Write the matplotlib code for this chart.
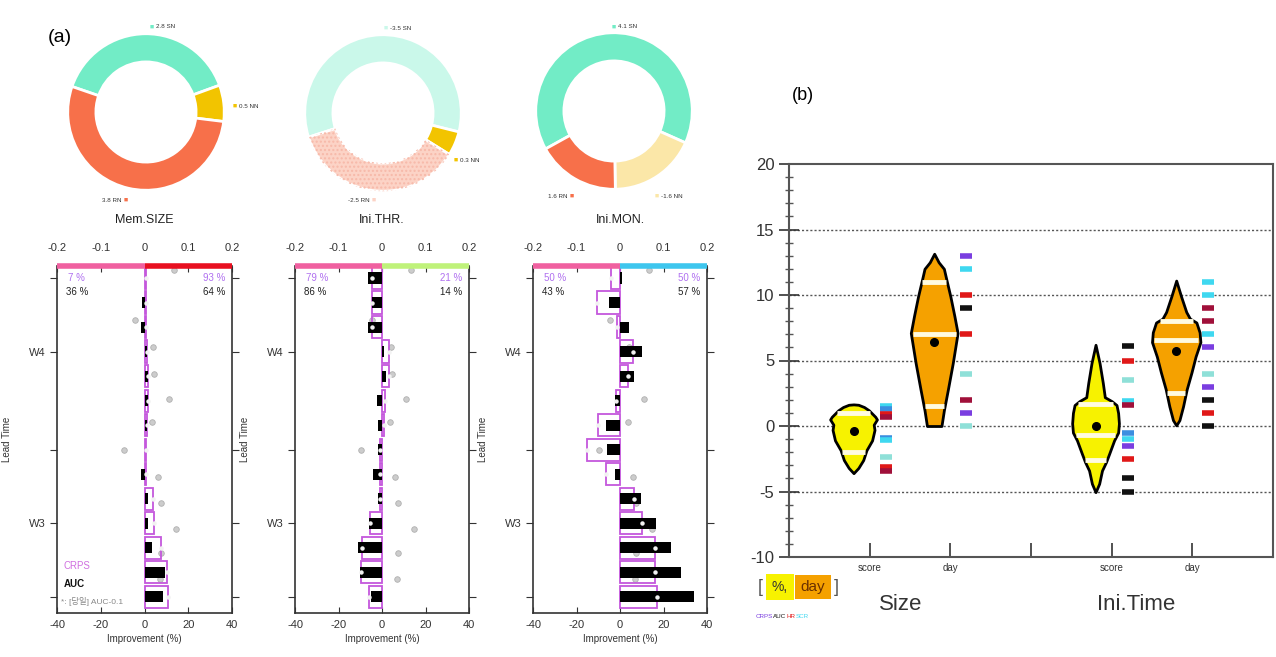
import numpy as np
import matplotlib.pyplot as plt
from matplotlib.patches import Wedge
from matplotlib.ticker import MultipleLocator
from matplotlib.transforms import blended_transform_factory

plt.rcParams['font.family'] = ['Liberation Sans', 'DejaVu Sans', 'Noto Sans CJK KR']
plt.rcParams['axes.unicode_minus'] = False

# ---------------- data ----------------
# donuts (a): shares in degrees read off the rings, order = SN, NN, RN (clockwise)
ring_share = [[141, 27, 192], [212, 18, 130], [233, 65, 62]]
ring_start = [161, 198, 209]
ring_text = [['2.8 SN', '0.5 NN', '3.8 RN'],
             ['-3.5 SN', '0.3 NN', '-2.5 RN'],
             ['4.1 SN', '-1.6 NN', '1.6 RN']]
ring_colors = [['#72ecc6', '#f2c400', '#f7704a'],
               ['#caf8ea', '#f2c400', '#fcd3c6'],
               ['#72ecc6', '#fbe7a8', '#f7704a']]

# bar panels (a)
panel_titles = ['Mem.SIZE', 'Ini.THR.', 'Ini.MON.']
lead_days = np.arange(28, 14, -1)          # 14 rows, top = day 28
tick_days = [28, 25, 21, 18, 15]
tick_names = ['', 'W4', '', 'W3', '']
crps_vals = [
    [0.5, 0.5, 0.5, 1, 1.5, 1.5, 1, 0.5, 0.5, 3.9, 4.3, 7.5, 10.3, 10.7],
    [-4.5, -4.5, -4.5, 3, 3, 1.5, 1, -1, -1, -1, -5.5, -9, -9.5, -6],
    [-4, -10.5, -1.5, 6, 3.5, -2, -10, -15, -6.5, 6.5, 10, 16, 16, 17],
]
auc_vals = [
    [0, -1, -1.5, 1, 1.5, 1.5, 1, 0, -1.5, 1.5, 1.5, 3.4, 9.4, 8.4],
    [-6.5, -4.5, -6.5, 1, 2, -2.5, -2, -2, -4, -2, -6, -11, -10, -5],
    [1, -5, 4, 10, 6.5, -2.5, -6.5, -6, -2.5, 9.5, 16.5, 23.5, 28, 34],
]
dot_lead = [28.33, 26.29, 25.18, 24.08, 23.06, 22.12, 20.98, 19.88, 18.82, 17.76, 16.78, 15.71]
dot_val = [13.5, -4.5, 4, 4.5, 11, 3.5, -9.5, 6, 7.5, 14.5, 7.5, 7]
pct_crps = [('7 %', '93 %'), ('79 %', '21 %'), ('50 %', '50 %')]
pct_auc = [('36 %', '64 %'), ('86 %', '14 %'), ('43 %', '57 %')]
right_bar = ['#e81020', '#bff27a', '#3ec6ee']

# violins (b)
size_score_y = [-3.6, -3.2, -2.6, -1.85, -1.1, -0.3, 0.1, 0.5, 0.7, 1.2, 1.45, 1.62, 1.65]
size_score_hw = [0.0, 0.06, 0.12, 0.16, 0.23, 0.26, 0.25, 0.29, 0.27, 0.19, 0.13, 0.06, 0.0]
size_day_y = [0.0, 1.2, 2.8, 4.8, 7.1, 8.4, 9.9, 11.2, 12.0, 12.5, 13.15]
size_day_hw = [0.09, 0.12, 0.17, 0.23, 0.29, 0.25, 0.20, 0.15, 0.12, 0.055, 0.0]
ini_score_y = [-5.05, -4.4, -3.4, -2.75, -2.1, -1.1, -0.5, 0.2, 1.0, 1.6, 1.9, 2.2, 3.3, 4.8, 6.2]
ini_score_hw = [0.0, 0.045, 0.08, 0.13, 0.17, 0.23, 0.28, 0.29, 0.28, 0.26, 0.2, 0.115, 0.09, 0.05, 0.0]
ini_day_y = [0.05, 0.45, 1.5, 2.8, 4.1, 5.3, 6.4, 7.15, 7.9, 8.2, 8.7, 9.9, 11.1]
ini_day_hw = [0.0, 0.04, 0.085, 0.13, 0.19, 0.24, 0.30, 0.29, 0.25, 0.17, 0.125, 0.06, 0.0]

size_score_q = [1.0, -2.0]
size_day_q = [11.0, 7.0, 1.5]
ini_score_q = [1.7, -0.7, -2.6]
ini_day_q = [8.0, 6.6, 2.5]
violin_mean = [-0.35, 6.4, 0.0, 5.7]

size_score_dash = [1.55, 1.3, 0.9, 0.65, -0.9, -1.1, -2.4, -3.1, -3.45]
size_score_col = ['C', 'B', 'R', 'D', 'B', 'C', 'T', 'R', 'D']
size_day_dash = [13, 12, 10, 9, 7, 4, 2, 1, 0]
size_day_col = ['P', 'C', 'R', 'K', 'R', 'T', 'D', 'P', 'T']
ini_score_dash = [6.1, 5.0, 3.5, 1.9, 1.6, -0.5, -1.0, -1.5, -2.5, -4.0, -5.0]
ini_score_col = ['K', 'R', 'T', 'C', 'D', 'B', 'C', 'P', 'R', 'K', 'K']
ini_day_dash = [11, 10, 9, 8, 7, 6, 4, 3, 2, 1, 0]
ini_day_col = ['C', 'C', 'D', 'D', 'C', 'P', 'T', 'P', 'K', 'R', 'K']

x_names = ['score', 'day', '', 'score', 'day']

palette = {'P': '#7a3ee0', 'K': '#111111', 'R': '#e01818', 'C': '#3fd8f0',
           'D': '#a0103a', 'B': '#3b8ee0', 'T': '#8fe0d8'}

# ---------------- figure ----------------
W, H = 1276, 657
fig = plt.figure(figsize=(W / 100, H / 100), dpi=100)


def px_axes(x0, y0, x1, y1):
    return fig.add_axes([x0 / W, 1 - y1 / H, (x1 - x0) / W, (y1 - y0) / H])


def ftext(px, py, s, **kw):
    return fig.text(px / W, 1 - py / H, s, **kw)


ftext(60, 38, '(a)', fontsize=14, ha='center', va='center')
ftext(803, 95, '(b)', fontsize=13, ha='center', va='center')

# donuts
centres = [(146, 112), (383, 113), (614, 111)]
label_px = [[(152, 27, 'r'), (235, 106, 'r'), (126, 200, 'l')],
            [(386, 28, 'r'), (456, 160, 'r'), (374, 200, 'l')],
            [(614, 27, 'r'), (657, 196, 'r'), (572, 196, 'l')]]
for k, (cx, cy) in enumerate(centres):
    ax = px_axes(cx - 90, cy - 90, cx + 90, cy + 90)
    wedges, _ = ax.pie(ring_share[k], colors=ring_colors[k], startangle=ring_start[k],
                       counterclock=False, radius=1,
                       wedgeprops=dict(width=0.36, edgecolor='white', linewidth=2))
    if k == 1:
        w = wedges[2]
        ax.add_patch(Wedge(w.center, w.r, w.theta1, w.theta2, width=w.width,
                           facecolor='none', edgecolor='#f7b9a9', hatch='....', lw=0))
    ax.set_xlim(-1.15, 1.15)
    ax.set_ylim(-1.15, 1.15)
    ax.axis('off')
    for j, (sx, sy, side) in enumerate(label_px[k]):
        ftext(sx, sy, '■', fontsize=5, color=ring_colors[k][j], ha='center', va='center')
        if side == 'r':
            ftext(sx + 4, sy, ring_text[k][j], fontsize=4.5, ha='left', va='center', color='#333')
        else:
            ftext(sx - 4, sy, ring_text[k][j], fontsize=4.5, ha='right', va='center', color='#333')

# bar panels
panel_x = [(57, 232), (295, 469), (533, 707)]
for k in range(3):
    x0, x1 = panel_x[k]
    ax = px_axes(x0, 266, x1, 613)
    ax.plot(dot_val, dot_lead, 'o', ms=4, mfc='#cccccc', mec='#b0b0b0', mew=0.6,
            ls='none', zorder=1.5)
    ax.barh(lead_days, crps_vals[k], height=0.9, fill=False, edgecolor='#c457dc',
            lw=1.3, zorder=2)
    ax.barh(lead_days, auc_vals[k], height=0.45, color='black', zorder=3)
    ax.plot(crps_vals[k], lead_days, 'o', ms=2.2, color='#f2f2f2', ls='none', zorder=4)
    ax.set_xlim(-40, 40)
    ax.set_ylim(14.33, 28.49)
    ax.set_yticks(tick_days)
    ax.set_yticklabels(tick_names)
    ax.tick_params(axis='y', direction='out', length=5, right=True, labelsize=8,
                   colors='#333', pad=3)
    ax.set_xticks([-40, -20, 0, 20, 40])
    ax.set_xticklabels(['-40', '-20', '0', '20', '40'])
    ax.tick_params(axis='x', direction='in', length=4, labelsize=8, colors='#333', pad=5)
    for s in ['left', 'right', 'bottom']:
        ax.spines[s].set_color('#333')
        ax.spines[s].set_linewidth(1.2)
    ax.spines['top'].set_visible(False)
    ax.set_xlabel('Improvement (%)', fontsize=7, labelpad=3, color='#333')
    ax.set_ylabel('Lead Time', fontsize=7, color='#333')
    ax.yaxis.set_label_coords(-45 / 175, 0.5)

    sec = ax.secondary_xaxis('top', functions=(lambda v: v / 200, lambda v: v * 200))
    sec.set_xticks([-0.2, -0.1, 0, 0.1, 0.2])
    sec.set_xticklabels(['-0.2', '-0.1', '0', '0.1', '0.2'])
    sec.tick_params(direction='in', length=4, labelsize=8, pad=9, colors='#333')
    sec.spines['top'].set_linewidth(0)

    tr = blended_transform_factory(ax.transData, ax.transAxes)
    ax.plot([-40, 0], [1, 1], transform=tr, color='#f060a0', lw=4, clip_on=False,
            solid_capstyle='butt', zorder=6)
    ax.plot([0, 40], [1, 1], transform=tr, color=right_bar[k], lw=4, clip_on=False,
            solid_capstyle='butt', zorder=6)
    ax.text(0.5, 1 + 46 / 347, panel_titles[k], transform=ax.transAxes, ha='center',
            va='center', fontsize=9, color='#222')

    ax.text(-35, 28.0, pct_crps[k][0], color='#b070f0', fontsize=7, ha='left', va='center')
    ax.text(37, 28.0, pct_crps[k][1], color='#b070f0', fontsize=7, ha='right', va='center')
    ax.text(-36, 27.43, pct_auc[k][0], color='#222', fontsize=7, ha='left', va='center')
    ax.text(37, 27.43, pct_auc[k][1], color='#222', fontsize=7, ha='right', va='center')
    if k == 0:
        ax.text(-37, 16.24, 'CRPS', color='#d070e0', fontsize=7, ha='left', va='center')
        ax.text(-37, 15.5, 'AUC', color='#111', fontsize=7, fontweight='bold',
                ha='left', va='center')
        ax.text(-38, 14.8, '*: [당일] AUC-0.1', color='#888', fontsize=6,
                ha='left', va='center')

# panel (b)
axb = px_axes(789, 164, 1273, 557)
for g in [-5, 0, 5, 10, 15]:
    axb.axhline(g, color='#555', lw=1, ls=(0, (1.5, 1.5)), zorder=1)

violins = [
    (0.8, 1.2, size_score_y, size_score_hw, size_score_q, '#f7f200', size_score_dash, size_score_col),
    (1.8, 2.2, size_day_y, size_day_hw, size_day_q, '#f5a100', size_day_dash, size_day_col),
    (3.8, 4.2, ini_score_y, ini_score_hw, ini_score_q, '#f7f200', ini_score_dash, ini_score_col),
    (4.8, 5.2, ini_day_y, ini_day_hw, ini_day_q, '#f5a100', ini_day_dash, ini_day_col),
]
for i, (c, dx, yy, hw, qs, fc, dv, dc) in enumerate(violins):
    yy = np.array(yy)
    hw = np.array(hw)
    axb.fill_betweenx(yy, c - hw, c + hw, facecolor=fc, edgecolor='black', lw=2, zorder=3)
    for q in qs:
        h = np.interp(q, yy, hw) * 0.92
        axb.plot([c - h, c + h], [q, q], color='#fffbe0', lw=3.5, solid_capstyle='butt', zorder=4)
    axb.plot(c, violin_mean[i], 'o', color='black', ms=5.5, zorder=5)
    for v, cc in zip(dv, dc):
        axb.plot(dx, v, marker='_', ms=9, mew=4, color=palette[cc], zorder=4)

axb.set_xlim(0, 6)
axb.set_ylim(-10, 20)
axb.set_xticks([1, 2, 3, 4, 5])
axb.set_xticklabels(x_names)
axb.tick_params(axis='x', direction='in', length=10, width=1.2, labelsize=7, pad=4,
                colors='#333')
axb.set_yticks(range(-10, 21, 5))
axb.yaxis.set_minor_locator(MultipleLocator(1))
axb.tick_params(axis='y', which='major', direction='inout', length=14, width=1.2,
                labelsize=12, colors='#333')
axb.tick_params(axis='y', which='minor', direction='inout', length=6, width=1, colors='#555')
for s in axb.spines.values():
    s.set_color('#555')
    s.set_linewidth(1.5)

ftext(901, 605, 'Size', fontsize=16, ha='center', va='center', color='#333')
ftext(1136, 605, 'Ini.Time', fontsize=16, ha='center', va='center', color='#333')

ftext(760, 587, '[', fontsize=13, ha='center', va='center', color='#555')
ftext(780, 587, '%,', fontsize=10, ha='center', va='center', color='#333',
      bbox=dict(boxstyle='square,pad=0.45', fc='#f7f200', ec='none'))
ftext(813, 587, 'day', fontsize=11, ha='center', va='center', color='#6a3000',
      bbox=dict(boxstyle='square,pad=0.35', fc='#f5a100', ec='none'))
ftext(836, 587, ']', fontsize=13, ha='center', va='center', color='#555')
for px, s, col in [(756, 'CRPS', '#7a3ee0'), (773, 'AUC', '#111'), (786, 'HR', '#e01818'),
                   (796, 'SCR', '#3fd8f0')]:
    ftext(px, 617, s, fontsize=4.5, color=col, ha='left', va='center')

fig.savefig('out.png', dpi=100)
